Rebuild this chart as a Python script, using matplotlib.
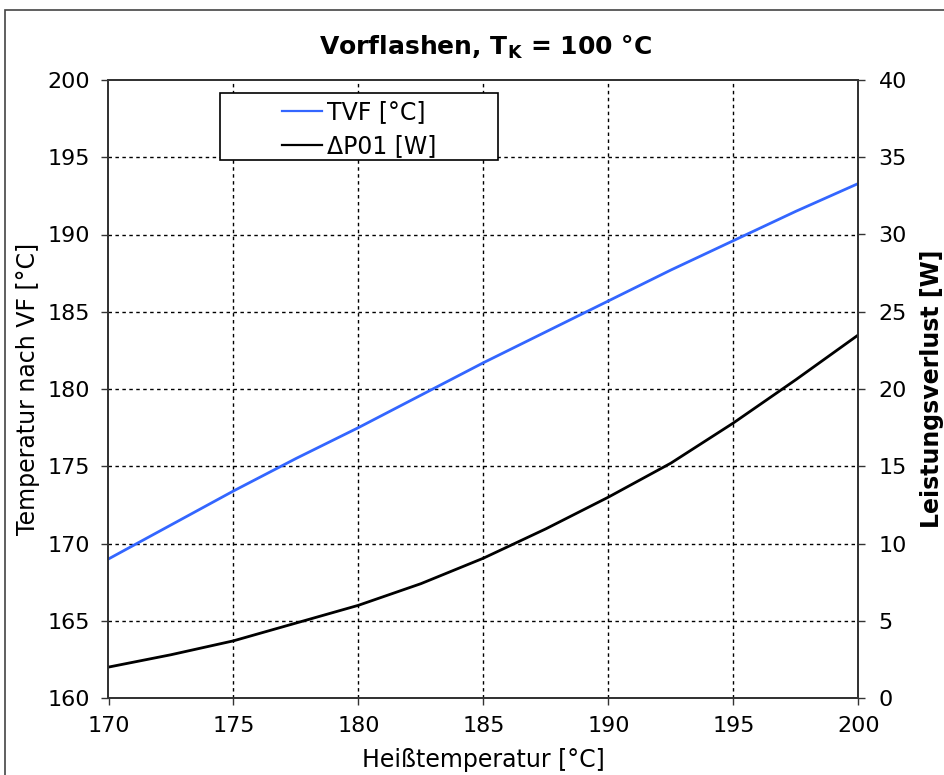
import matplotlib
matplotlib.use("Agg")
import matplotlib.pyplot as plt
from matplotlib.lines import Line2D
from matplotlib.patches import Rectangle

# Heißtemperatur [°C]
heiss_temp = [170, 172.5, 175, 177.5, 180, 182.5, 185, 187.5, 190, 192.5, 195, 197.5, 200]
# Temperatur nach dem Vorflashen [°C]
tvf = [169.0, 171.2, 173.4, 175.5, 177.5, 179.6, 181.7, 183.7, 185.7, 187.7, 189.6, 191.5, 193.3]
# Leistungsverlust [W]
dp01 = [2.0, 2.8, 3.7, 4.85, 6.0, 7.4, 9.05, 10.95, 13.0, 15.2, 17.8, 20.6, 23.5]

x_ticks = [170, 175, 180, 185, 190, 195, 200]
left_ticks = [160, 165, 170, 175, 180, 185, 190, 195, 200]
right_ticks = [0, 5, 10, 15, 20, 25, 30, 35, 40]

plt.rcParams['font.family'] = ['DejaVu Sans']
TICK_FS = 16
LABEL_FS = 17

fig = plt.figure(figsize=(9.45, 7.75), dpi=100)
ax = fig.add_axes([108.5 / 945, 1 - 698 / 775, (858.3 - 108.5) / 945, (698 - 80) / 775])
ax2 = ax.twinx()

ax.plot(heiss_temp, tvf, color='#3366ff', lw=2.0)
ax2.plot(heiss_temp, dp01, color='black', lw=2.0)

ax.set_xlim(170, 200)
ax.set_ylim(160, 200)
ax2.set_ylim(0, 40)
ax.set_xticks(x_ticks)
ax.set_yticks(left_ticks)
ax2.set_yticks(right_ticks)

ax.grid(True, color='black', lw=1.0, linestyle=(0, (2.5, 2.5)))
# no gridlines on top of the frame
for gl in (ax.xaxis.get_gridlines()[0], ax.xaxis.get_gridlines()[-1],
           ax.yaxis.get_gridlines()[0], ax.yaxis.get_gridlines()[-1]):
    gl.set_visible(False)

for a in (ax, ax2):
    for s in a.spines.values():
        s.set_color('#333333')
        s.set_linewidth(1.3)
    a.tick_params(direction='out', length=5, width=1, colors='#333333',
                  labelcolor='black', labelsize=TICK_FS, pad=8)
ax2.tick_params(pad=9.5)

ax.set_xlabel('Heißtemperatur [°C]', fontsize=LABEL_FS)
ax.set_ylabel('Temperatur nach VF [°C]', fontsize=LABEL_FS)
ax2.set_ylabel('Leistungsverlust [W]', fontsize=LABEL_FS, fontweight='bold')
ax.xaxis.set_label_coords(0.5, -0.1003)
ax.yaxis.set_label_coords(-0.1074, 0.5)
ax2.yaxis.set_label_coords(1.098, 0.5)
for lbl in (ax.xaxis.label, ax.yaxis.label, ax2.yaxis.label):
    lbl.set_verticalalignment('center')

fig.text(485 / 945, 1 - 47 / 775, r'Vorflashen, T$_\mathregular{K}$ = 100 °C',
         fontsize=18, fontweight='bold', ha='center', va='center')

# legend box with centred entries
box_x, box_y, box_w, box_h = 0.1487, 0.8706, 0.371, 0.108
box = Rectangle((box_x, box_y), box_w, box_h, transform=ax2.transAxes,
                facecolor='white', edgecolor='black', lw=1.2, zorder=5)
ax2.add_patch(box)
handles = [Line2D([], [], color='#3366ff', lw=1.6), Line2D([], [], color='black', lw=1.6)]
leg = ax2.legend(handles, ['TVF [°C]', 'ΔP01 [W]'], loc='center',
                 bbox_to_anchor=(box_x + box_w / 2, box_y + box_h / 2 - 0.004),
                 frameon=False, fontsize=LABEL_FS, handlelength=1.7, handletextpad=0.2,
                 labelspacing=0.4, borderpad=0)
leg.set_zorder(6)

# outer chart border
fig.add_artist(Rectangle((5 / 945, -0.1), 1.2, 1.1 - 10 / 775, transform=fig.transFigure,
                         fill=False, edgecolor='#444444', lw=1.2))

fig.savefig('out.png', dpi=100)
